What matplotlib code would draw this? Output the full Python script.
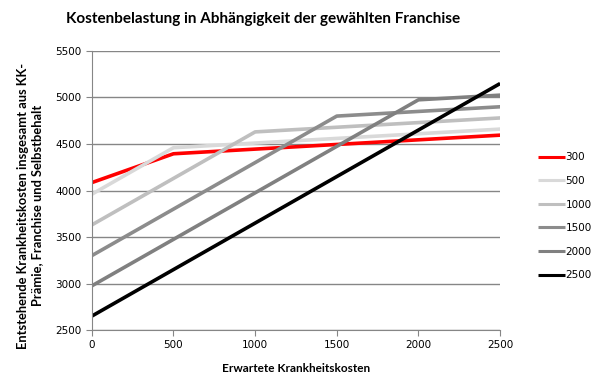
import matplotlib
matplotlib.use("Agg")
import matplotlib.pyplot as plt

costs = [0, 500, 1000, 1500, 2000, 2500]
labels = ["300", "500", "1000", "1500", "2000", "2500"]
f300 = [4085, 4395, 4445, 4495, 4545, 4595]
f500 = [3960, 4460, 4510, 4560, 4610, 4660]
f1000 = [3630, 4130, 4630, 4680, 4730, 4780]
f1500 = [3300, 3800, 4300, 4800, 4850, 4900]
f2000 = [2975, 3475, 3975, 4475, 4975, 5025]
f2500 = [2650, 3150, 3650, 4150, 4650, 5150]
series = [f300, f500, f1000, f1500, f2000, f2500]
colors = ["#ff0000", "#d9d9d9", "#bfbfbf", "#8c8c8c", "#808080", "#000000"]

fig = plt.figure(figsize=(6.04, 3.92), dpi=100)
ax = fig.add_axes([0.152, 0.158, 0.676, 0.712])

for vals, lab, col in zip(series, labels, colors):
    ax.plot(costs, vals, color=col, lw=2.6, label=lab, solid_capstyle="butt")

ax.set_xlim(0, 2500)
ax.set_ylim(2500, 5500)
ax.set_xticks(range(0, 2501, 500))
ax.set_yticks(range(2500, 5501, 500))
ax.yaxis.grid(True, color="#868686", lw=1)
ax.set_axisbelow(True)
for s in ["top", "right"]:
    ax.spines[s].set_visible(False)
for s in ["left", "bottom"]:
    ax.spines[s].set_color("#868686")
ax.tick_params(colors="#868686", labelcolor="black", labelsize=7.5, length=4)

ax.set_xlabel("Erwartete Krankheitskosten", fontsize=8.5, fontweight="bold",
              family="Lato", labelpad=9)
ax.set_ylabel("Entstehende Krankheitskosten insgesamt aus KK-\nPrämie, Franchise und Selbstbehalt",
              fontsize=9.3, fontweight="bold", family="Lato", labelpad=9, y=0.445)
fig.suptitle("Kostenbelastung in Abhängigkeit der gewählten Franchise",
             x=0.436, y=0.97, fontsize=11, fontweight="bold", family="Lato")

fig.legend(loc="upper left", bbox_to_anchor=(0.875, 0.635), frameon=False,
           fontsize=7.5, handlelength=2.6, handletextpad=0.05, labelspacing=1.3)
for h in fig.legends[0].get_lines():
    h.set_linewidth(2.2)

fig.savefig("out.png", dpi=100)
